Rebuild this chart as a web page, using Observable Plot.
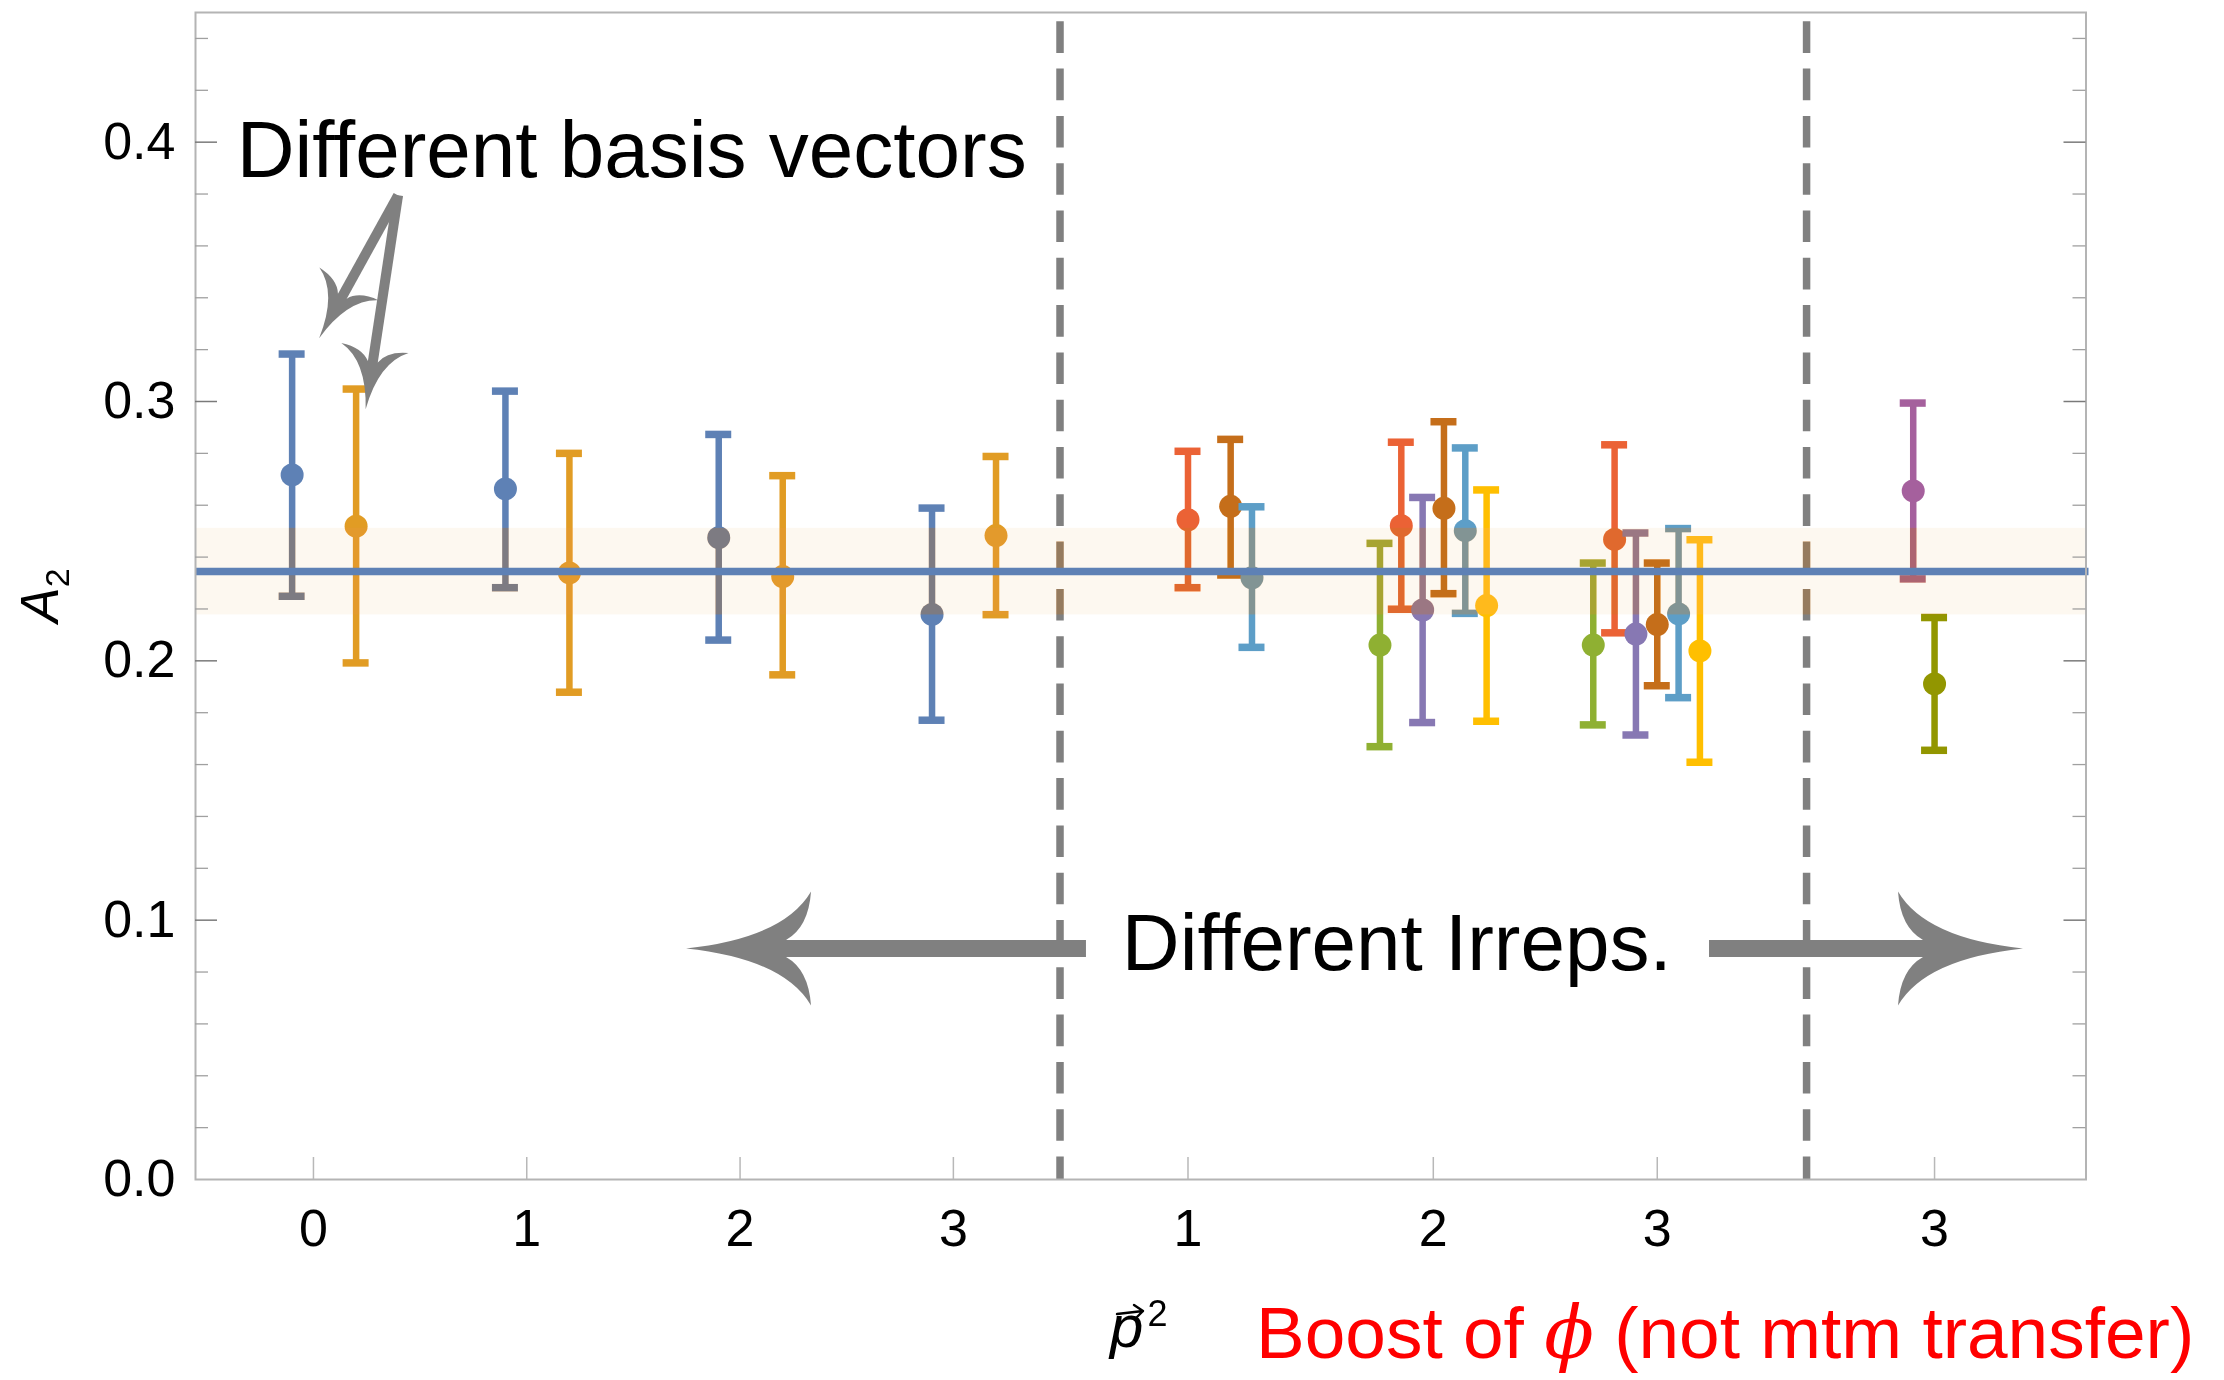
<!DOCTYPE html>
<html><head><meta charset="utf-8">
<script src="https://cdn.jsdelivr.net/npm/d3@7"></script>
<script src="https://cdn.jsdelivr.net/npm/@observablehq/plot@0.6"></script>
<style>
html,body{margin:0;padding:0;background:#fff;}
#chart{width:2224px;height:1380px;overflow:hidden;}
</style></head><body><div id="chart"></div>
<script>
// ---------- data ----------
const p2TickPos    = [0, 1, 2, 3, 4.1, 5.25, 6.3, 7.6];
const p2TickLabels = ["0","1","2","3","1","2","3","3"];
const irrepDividers = [3.5, 7.0];

const xPos     = [-0.1, 0.2, 0.9, 1.2, 1.9, 2.2, 2.9, 3.2,
                  4.1, 4.3, 4.4,
                  5.0, 5.1, 5.2, 5.3, 5.4, 5.5,
                  6.0, 6.1, 6.2, 6.3, 6.4, 6.5,
                  7.5, 7.6];
const seriesId = [0, 1, 0, 1, 0, 1, 0, 1,
                  3, 5, 6,
                  2, 3, 4, 5, 6, 7,
                  2, 3, 4, 5, 6, 7,
                  8, 9];
const A2   = [0.2717, 0.2519, 0.2663, 0.2339, 0.2475, 0.2325, 0.2179, 0.2483,
              0.2544, 0.2596, 0.2320,
              0.2061, 0.2521, 0.2196, 0.2588, 0.2502, 0.2213,
              0.2061, 0.2468, 0.2103, 0.2140, 0.2181, 0.2038,
              0.2655, 0.1911];
const A2lo = [0.2249, 0.1992, 0.2282, 0.1879, 0.2080, 0.1946, 0.1771, 0.2178,
              0.2282, 0.2331, 0.2052,
              0.1669, 0.2199, 0.1762, 0.2259, 0.2183, 0.1767,
              0.1753, 0.2108, 0.1714, 0.1904, 0.1858, 0.1609,
              0.2316, 0.1655];
const A2hi = [0.3183, 0.3048, 0.3040, 0.2800, 0.2873, 0.2714, 0.2589, 0.2788,
              0.2808, 0.2854, 0.2594,
              0.2453, 0.2843, 0.2630, 0.2922, 0.2821, 0.2659,
              0.2377, 0.2833, 0.2493, 0.2377, 0.2510, 0.2467,
              0.2994, 0.2167];
const fitValue = [0.2344];
const fitBand  = [{lo: 0.2177, hi: 0.2511}];

// annotations (data units)
const noteTexts = [
  {x: -0.36, y: 0.3867, text: "Different basis vectors"},
  {x: 3.79,  y: 0.0806, text: "Different Irreps."}
];
const noteArrows = [
  {x1: 0.399, y1: 0.3793, x2: 0.029, y2: 0.3242, big: false},
  {x1: 0.399, y1: 0.3793, x2: 0.247, y2: 0.2968, big: false},
  {x1: 3.624, y1: 0.0889, x2: 1.749, y2: 0.0889, big: true},
  {x1: 6.545, y1: 0.0889, x2: 8.017, y2: 0.0889, big: true}
];

const palette = ["#5E81B5","#E19C24","#8FB032","#EB6235","#8778B3",
                 "#C56E1A","#5D9EC7","#FFBF00","#A5609D","#929600"];

// ---------- layout ----------
const W = 2224, H = 1380;
const mL = 195, mR = 138.5, mT = 12, mB = 201;
const fw = W - mL - mR, fh = H - mT - mB;
const xDomain = [-0.553, 8.31];
const yDomain = [0, 0.45];
const yMajor = [0, 0.1, 0.2, 0.3, 0.4];
const yMinor = d3.range(0.02, 0.449, 0.02).filter(v => Math.abs(v * 10 - Math.round(v * 10)) > 1e-6);
const labelOf = new Map(p2TickPos.map((p, i) => [p, p2TickLabels[i]]));
const overlayFill = "#d98a33";

const data = xPos.map((x, i) => ({i, x, y: A2[i], lo: A2lo[i], hi: A2hi[i], s: seriesId[i]}));

const marks = [
  Plot.rect(fitBand, {x1: xDomain[0], x2: xDomain[1], y1: "lo", y2: "hi", fill: "#fcf8f1"}),
  Plot.ruleX(irrepDividers, {stroke: "#808080", strokeWidth: 7.5, strokeDasharray: "31.6,15.7", strokeDashoffset: 38})
];
const capHalf = 13;
data.forEach(d => {
  const f = e => e.i === d.i;
  marks.push(Plot.ruleX(data, {filter: f, x: "x", y1: "lo", y2: "hi", stroke: "s", strokeWidth: 6.5}));
  marks.push(Plot.ruleY(data, {filter: f, x1: "x", x2: "x", y: "hi", stroke: "s", strokeWidth: 7.5, insetLeft: -capHalf, insetRight: -capHalf}));
  marks.push(Plot.ruleY(data, {filter: f, x1: "x", x2: "x", y: "lo", stroke: "s", strokeWidth: 7.5, insetLeft: -capHalf, insetRight: -capHalf}));
  marks.push(Plot.dot(data, {filter: f, x: "x", y: "y", r: 11.5, fill: "s", stroke: null}));
});
marks.push(
  Plot.rect(fitBand, {x1: xDomain[0], x2: xDomain[1], y1: "lo", y2: "hi", fill: overlayFill, fillOpacity: 0.32, mixBlendMode: "color"}),
  Plot.ruleY(fitValue, {stroke: "#5E81B5", strokeWidth: 7.5, insetRight: -3}),
  Plot.frame({stroke: "#b4b4b4", strokeWidth: 2}),
  Plot.tickY(yMajor.slice(1), {stroke: "#7a7a7a", strokeWidth: 1.5, insetRight: fw - 22}),
  Plot.tickY(yMinor, {stroke: "#a0a0a0", strokeWidth: 1.3, insetRight: fw - 13}),
  Plot.tickY(yMajor.slice(1), {stroke: "#7a7a7a", strokeWidth: 1.5, insetLeft: fw - 22}),
  Plot.tickY(yMinor, {stroke: "#a0a0a0", strokeWidth: 1.3, insetLeft: fw - 13}),
  Plot.tickX(p2TickPos, {stroke: "#b8b8b8", strokeWidth: 1.5, insetTop: fh - 22}),
  Plot.axisY({ticks: yMajor, tickSize: 0, tickPadding: 20, fontSize: 52, tickFormat: d3.format(".1f"), label: null}),
  Plot.axisX({ticks: p2TickPos, tickSize: 0, tickPadding: 30, fontSize: 52, tickFormat: d => labelOf.get(d), label: null}),
  Plot.text(noteTexts, {x: "x", y: "y", text: "text", textAnchor: "start", lineAnchor: "bottom", fontSize: 80, fill: "black"})
);

const chart = Plot.plot({
  width: W, height: H,
  marginLeft: mL, marginRight: mR, marginTop: mT, marginBottom: mB,
  style: {fontFamily: "'Liberation Sans', Arial, sans-serif", background: "white", color: "black"},
  x: {domain: xDomain},
  y: {domain: yDomain},
  color: {type: "ordinal", domain: d3.range(palette.length), range: palette},
  marks
});
document.getElementById("chart").appendChild(chart);

const svg = d3.select(chart);
svg.selectAll(`[fill="${overlayFill}"]`).style("mix-blend-mode", "color");

// scales for annotations
const sx = chart.scale("x"), sy = chart.scale("y");
const X = d3.scaleLinear(sx.domain, sx.range);
const Y = d3.scaleLinear(sy.domain, sy.range);

// arrows in the Mathematica swept style
const ag = svg.append("g").attr("fill", "#808080").attr("stroke", "none");
function arrow(a) {
  const x1 = X(a.x1), y1 = Y(a.y1), x2 = X(a.x2), y2 = Y(a.y2);
  const o = a.big ? {shaft: 17, len: 125, half: 57, notch: 100} : {shaft: 10, len: 62, half: 34, notch: 48};
  const L = Math.hypot(x2 - x1, y2 - y1), ux = (x2 - x1) / L, uy = (y2 - y1) / L;
  const px = -uy, py = ux;
  const P = (s, t) => [x2 - ux * s + px * t, y2 - uy * s + py * t].map(v => v.toFixed(2)).join(",");
  ag.append("line").attr("x1", x1).attr("y1", y1)
    .attr("x2", x2 - ux * (o.notch - 2)).attr("y2", y2 - uy * (o.notch - 2))
    .attr("stroke", "#808080").attr("stroke-width", o.shaft);
  const h = o.shaft / 2;
  const d = `M${P(0,0)} Q${P(o.len*0.78, o.half*0.18)} ${P(o.len, o.half)}`
          + ` Q${P(o.len - 0.1*(o.len-o.notch), h + o.half*0.22)} ${P(o.notch, h)}`
          + ` L${P(o.notch, -h)}`
          + ` Q${P(o.len - 0.1*(o.len-o.notch), -h - o.half*0.22)} ${P(o.len, -o.half)}`
          + ` Q${P(o.len*0.78, -o.half*0.18)} ${P(0,0)} Z`;
  ag.append("path").attr("d", d);
}
noteArrows.forEach(arrow);

// axis labels
const yl = svg.append("text")
  .attr("transform", `translate(58,${(mT + H - mB) / 2}) rotate(-90)`)
  .attr("text-anchor", "middle")
  .attr("font-family", "'Liberation Sans', Arial, sans-serif")
  .attr("font-size", 53).attr("fill", "black");
yl.append("tspan").attr("font-style", "italic").text("A");
yl.append("tspan").attr("font-size", 34).attr("dy", 11).text("2");

const xl = svg.append("g").attr("font-family", "'Liberation Sans', Arial, sans-serif")
  .attr("fill", "black").attr("text-anchor", "start");
const pt = xl.append("text").attr("x", 1110).attr("y", 1347).attr("font-size", 60);
pt.append("tspan").attr("font-style", "italic").text("p");
pt.append("tspan").attr("font-size", 36).attr("dx", 4).attr("dy", -21).text("2");
// vector arrow over p
xl.append("path").attr("d", "M1117,1314 L1143,1311 M1143,1311 L1134,1305 M1143,1311 L1136,1318")
  .attr("fill", "none").attr("stroke", "black").attr("stroke-width", 2.4).attr("stroke-linecap", "round");
const red = svg.append("text").attr("x", 1256).attr("y", 1358).attr("text-anchor", "start")
  .attr("font-family", "'Liberation Sans', Arial, sans-serif").attr("font-size", 73).attr("fill", "#ff0000");
red.append("tspan").text("Boost of ");
red.append("tspan").attr("font-style", "italic").attr("font-family", "'DejaVu Serif', serif").text("\u03D5");
red.append("tspan").text(" (not mtm transfer)");
</script></body></html>
